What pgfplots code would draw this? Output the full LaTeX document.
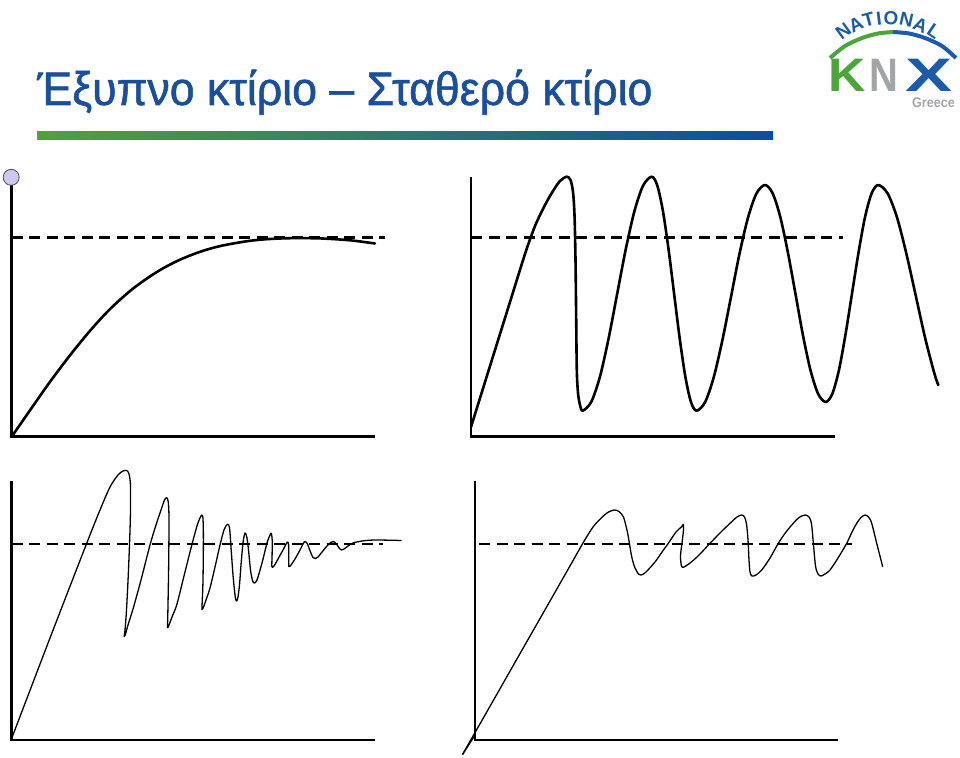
\documentclass[border=0pt]{standalone}
\usepackage{fontspec}
\setmainfont{Liberation Sans}
\newfontfamily\titlefont[FakeStretch=0.95, FakeBold=1.2]{Liberation Sans}
\usepackage{pgfplots}
\pgfplotsset{compat=1.18}
\definecolor{titleblue}{HTML}{1A4F9E}
\definecolor{knxgreen}{HTML}{4CA53C}
\definecolor{knxblue}{HTML}{1C5BA8}
\definecolor{knxgray}{HTML}{A2A5A8}
\definecolor{barblue}{HTML}{0A4DA3}
\definecolor{bargreen}{HTML}{4DA43A}
\definecolor{lav}{HTML}{C9C9F2}
\pgfdeclarehorizontalshading{barshade}{100bp}{color(0bp)=(bargreen); color(25bp)=(bargreen); color(75bp)=(barblue); color(100bp)=(barblue)}
\begin{document}
\begin{tikzpicture}
\begin{axis}[scale only axis, width=960pt, height=757pt,
  xmin=0, xmax=960, ymin=0, ymax=757, y dir=reverse,
  hide axis, clip=false]
% ---- title and bar
\node[anchor=base west, inner sep=0pt, text=titleblue, font=\titlefont\fontsize{47}{50}\selectfont] at (axis cs:37,105) {Έξυπνο κτίριο – Σταθερό κτίριο};
\fill[shading=barshade] (axis cs:37,131) rectangle (axis cs:773,139);
% ---- logo
\addplot[knxgreen, line width=4pt, smooth] coordinates {(830,58) (845,46) (862,38) (878,33.5) (893,32)};
\addplot[knxblue, line width=4pt, smooth] coordinates {(893,32) (909,33.5) (925,38) (942,46) (956,58)};
\begin{scope}[every node/.style={inner sep=0pt, text=knxblue, font=\bfseries\fontsize{19}{19}\selectfont}]
\node[rotate=36] at (axis cs:843.3,31.5) {N};
\node[rotate=26] at (axis cs:856,24.5) {A};
\node[rotate=15] at (axis cs:868.5,20) {T};
\node[rotate=7] at (axis cs:879,18.5) {I};
\node[rotate=-2] at (axis cs:891,18) {O};
\node[rotate=-13] at (axis cs:906.5,20) {N};
\node[rotate=-24] at (axis cs:920.5,25) {A};
\node[rotate=-34] at (axis cs:934,31) {L};
\end{scope}
\node[anchor=base, inner sep=0pt, text=knxgreen, xscale=1.1, font=\bfseries\fontsize{47}{47}\selectfont] at (axis cs:847,92) {K};
\node[anchor=base, inner sep=0pt, text=knxgray, xscale=0.85, font=\bfseries\fontsize{47}{47}\selectfont] at (axis cs:884,92) {N};
\node[anchor=base, inner sep=0pt, text=knxblue, xscale=1.5, font=\bfseries\fontsize{47}{47}\selectfont] at (axis cs:929,92) {X};
\node[anchor=base east, inner sep=0pt, text=knxgray, xscale=0.9, font=\bfseries\fontsize{14}{14}\selectfont] at (axis cs:955,107.5) {Greece};
% ---- panel 1
\addplot[black, line width=2.6pt, line join=miter] coordinates {(11.7,178) (11.7,436.7) (375,436.7)};
\addplot[black, line width=2.5pt, dash pattern=on 11pt off 6.5pt] coordinates {(11.7,237.7) (385,237.7)};
\addplot[black, line width=2.6pt, smooth, line cap=round] coordinates {
(11.7,436.7) (30,410.3) (50,381.8) (70,355.3) (90,330.8) (110,309.1) (133,288.6) (157,271.9) (178,260.6) (200,251.8) (220,246.1) (245,241.5) (265,239.3) (290,238.2) (320,238.4) (350,240.3) (375,243.5)};
\addplot[only marks, mark=*, mark size=8pt, mark options={fill=lav, draw=black!70, line width=0.8pt}] coordinates {(11.2,177.3)};
% ---- panel 2
\addplot[black, line width=2.6pt, line join=miter] coordinates {(471,176.7) (471,436.7) (835,436.7)};
\addplot[black, line width=2.5pt, dash pattern=on 11pt off 6.5pt] coordinates {(471,237.7) (843,237.7)};
\addplot[black, line width=2.6pt, smooth, line cap=round, line join=round] coordinates {
(471,427) (490,366) (510,302) (525,254) (535,226) (545,205) (553,191) (560,181) (566.7,176.7)
(570.5,180) (573,192) (574.5,215) (575.5,260) (576.2,320) (576.8,370) (578,393) (580,405) (582.7,410.7)
(591.3,401.8) (600,376.5) (608.6,338.4) (617.2,293.7) (625.8,249) (634.5,210.9) (643.1,185.6) (651.7,176.7)
(657.3,185.6) (662.9,210.9) (668.5,249) (674.1,293.7) (679.7,338.4) (685.3,376.5) (690.9,401.8) (696.5,410.7)
(705.1,402.1) (713.6,377.7) (722.2,341) (730.8,297.9) (739.3,254.7) (747.9,218) (756.4,193.6) (765,185)
(772.6,193.2) (780.2,216.7) (787.8,252) (795.4,293.5) (802.9,335) (810.5,370.3) (818.1,393.8) (825.7,402)
(832.3,393.8) (838.9,370.3) (845.4,335) (852,293.5) (858.6,252) (865.1,216.7) (871.7,193.2) (878.3,185)
(887.6,193.4) (896.9,217.1) (906.2,253) (915.6,295) (924.9,337) (934.2,372.9) (938.3,385)};
% ---- panel 3
\addplot[black, line width=2.6pt, line join=miter] coordinates {(11.7,480.7) (11.7,740) (375,740)};
\addplot[black, line width=2.5pt, dash pattern=on 11pt off 6.5pt] coordinates {(11.7,544) (383.3,544)};
\addplot[black, line width=1.3pt, smooth, tension=0.5, line join=round] coordinates {
(11.7,738.3) (50,638) (86.7,543.3) (100,510) (110,487) (118,475) (123,471) (126.7,470.5) (129,474) (130.5,486) (130.3,520) (128.5,570) (126.5,610) (125,630) (124.2,636.5) (125.5,634) (128,625) (133.3,608) (141,580) (150,545) (156,525) (161.7,508) (164.5,500) (166.7,497.7) (168.3,502) (169,520) (168.6,570) (167.8,615) (167.5,627.5) (169,625) (172,617) (176.7,605) (183,580) (190,552) (195,533) (198.3,522) (201.7,515) (203,519) (203.4,540) (203,580) (202.2,602) (201.9,609.5) (203.5,607) (206,600) (210,588) (215,567) (220,545) (224,530) (227.3,524.3) (229.5,528) (231.2,550) (233,575) (235,595) (236.3,601) (237.8,598) (239.5,585) (241,565) (243,543) (245,533) (246.8,537) (248.5,550) (250.5,570) (252.5,580.5) (254.3,583) (257,580) (262,563) (267,543) (270,535) (271.3,533.3) (272.2,540) (272.1,555) (271.9,566.7) (274,566) (278,559) (283,550) (287.3,542) (288.6,545) (288.8,556) (288.8,566.5) (291,565) (295,559) (300,550) (303,544) (305,541.5) (307.5,544) (310.5,552) (313,557.5) (315.5,558.5) (318,557) (322,552) (327,546) (331,542.3) (333.5,541.5) (336.5,544) (339.5,548.5) (341.5,550) (344,549) (348,546) (353,543) (362,541) (375,540) (401.7,540.5)};
% ---- panel 4
\addplot[black, line width=2.6pt, line join=miter] coordinates {(475,480.7) (475,740) (838.3,740)};
\addplot[black, line width=2.5pt, dash pattern=on 11pt off 6.5pt] coordinates {(479,544) (851.7,544)};
\addplot[black, line width=1.3pt] coordinates {(474.5,736) (462.5,754.5)};
\addplot[black, line width=1.3pt, smooth, tension=0.5, line join=round] coordinates {
(462.5,754.5) (478,727.3) (491.7,703.3) (520,653.6) (548.3,604) (570,565.9) (583.3,542.5) (593,527) (601.7,517.5) (608,512.3) (614.3,510) (619,511.5) (623.3,516.7) (626,526) (628.3,536.7) (631.7,556.7) (635,568) (639,574.5) (641.5,575) (646,572) (655,562) (662,552) (668.3,543.3) (676,532) (681.7,526.7) (683.3,524.5) (683.5,530) (682,543) (680.5,556) (681.5,566) (684,567) (691.7,561.7) (700,554) (710,543.3) (720,533) (730,523.3) (737,517) (741.7,515) (744.5,517) (746.5,524) (748,540) (749,560) (750,572) (752,576) (756,575) (761.7,570) (770,558) (778.3,543.3) (786,532) (793.3,523.3) (799,517.5) (805,515) (809,517) (811.5,524) (813.5,545) (815.5,566) (818,574) (821,576) (825,574) (830,570) (838,558) (846.7,543.3) (852,532) (856.7,523.3) (861,517.5) (865,515) (868.5,517) (871.7,523.3) (876.7,543.3) (882.7,566.7)};
\end{axis}
\pgfresetboundingbox
\useasboundingbox (current axis.south west) rectangle (current axis.north east);
\end{tikzpicture}
\end{document}
